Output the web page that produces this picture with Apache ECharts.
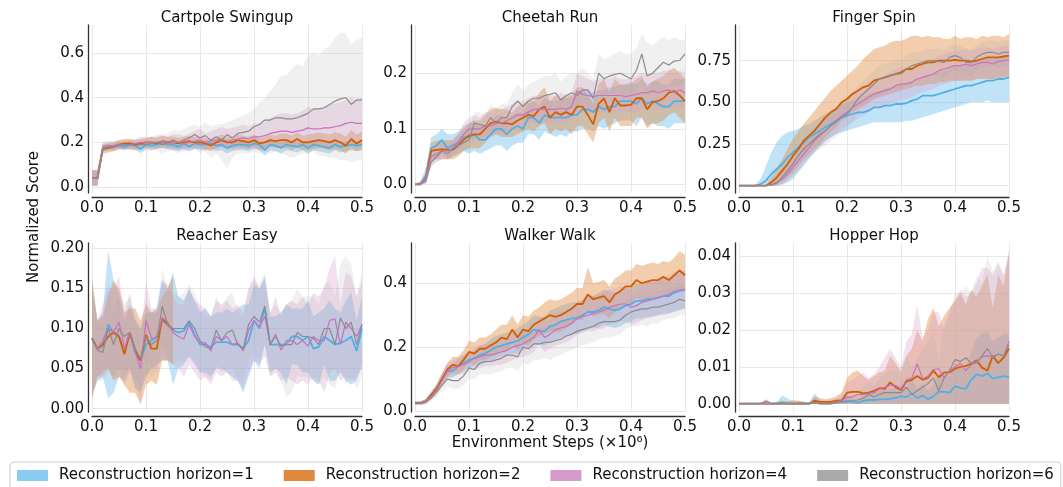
<!DOCTYPE html>
<html>
<head>
<meta charset="utf-8">
<script src="https://cdn.jsdelivr.net/npm/echarts@6/dist/echarts.min.js"></script>
<style>
  html, body { margin: 0; padding: 0; background: #ffffff; }
  #chart { width: 1063px; height: 487px; }
</style>
</head>
<body>
<div id="chart"></div>
<script>
// x positions (environment steps, in millions)
const steps = [0,0.01,0.02,0.03,0.04,0.05,0.06,0.07,0.08,0.09,0.1,0.11,0.12,0.13,0.14,0.15,0.16,0.17,0.18,0.19,0.2,0.21,0.22,0.23,0.24,0.25,0.26,0.27,0.28,0.29,0.3,0.31,0.32,0.33,0.34,0.35,0.36,0.37,0.38,0.39,0.4,0.41,0.42,0.43,0.44,0.45,0.46,0.47,0.48,0.49,0.5];
const horizons = ['Reconstruction horizon=1', 'Reconstruction horizon=2', 'Reconstruction horizon=4', 'Reconstruction horizon=6'];
const xTicks = [0, 0.1, 0.2, 0.3, 0.4, 0.5];

// ---- Cartpole Swingup ----
const cartpoleTicks = [0, 0.2, 0.4, 0.6];
const cpMean1 = [0.04,0.04,0.175,0.18,0.18,0.185,0.18,0.19,0.185,0.17,0.19,0.185,0.19,0.195,0.19,0.19,0.18,0.195,0.18,0.195,0.19,0.19,0.195,0.185,0.19,0.175,0.185,0.19,0.19,0.185,0.195,0.19,0.165,0.19,0.185,0.175,0.19,0.185,0.18,0.19,0.175,0.19,0.185,0.18,0.175,0.19,0.18,0.185,0.19,0.185,0.19];
const cpLow1 = [0.005,0.005,0.16,0.165,0.165,0.17,0.165,0.17,0.17,0.15,0.17,0.165,0.17,0.175,0.17,0.165,0.16,0.17,0.16,0.17,0.165,0.165,0.17,0.16,0.165,0.15,0.16,0.165,0.165,0.16,0.17,0.165,0.14,0.165,0.16,0.15,0.165,0.16,0.155,0.165,0.15,0.165,0.16,0.155,0.15,0.165,0.155,0.16,0.165,0.16,0.165];
const cpHigh1 = [0.075,0.075,0.19,0.195,0.195,0.2,0.195,0.205,0.2,0.19,0.205,0.2,0.205,0.21,0.205,0.21,0.2,0.215,0.2,0.215,0.21,0.21,0.215,0.205,0.21,0.2,0.205,0.21,0.21,0.205,0.215,0.21,0.19,0.21,0.205,0.2,0.21,0.205,0.2,0.21,0.2,0.21,0.205,0.2,0.2,0.21,0.2,0.205,0.21,0.205,0.21];
const cpMean2 = [0.04,0.04,0.17,0.175,0.18,0.19,0.195,0.195,0.19,0.195,0.2,0.2,0.195,0.205,0.2,0.2,0.195,0.2,0.205,0.2,0.2,0.195,0.185,0.2,0.21,0.2,0.2,0.21,0.205,0.2,0.21,0.195,0.2,0.21,0.205,0.21,0.21,0.2,0.215,0.2,0.2,0.205,0.21,0.205,0.2,0.21,0.2,0.185,0.215,0.195,0.21];
const cpLow2 = [0.005,0.005,0.15,0.155,0.16,0.17,0.17,0.17,0.165,0.17,0.175,0.175,0.17,0.18,0.175,0.175,0.17,0.175,0.18,0.175,0.175,0.17,0.16,0.175,0.18,0.175,0.17,0.18,0.175,0.17,0.18,0.165,0.17,0.18,0.175,0.175,0.175,0.165,0.18,0.165,0.165,0.17,0.175,0.17,0.165,0.17,0.165,0.15,0.175,0.16,0.17];
const cpHigh2 = [0.075,0.075,0.19,0.195,0.2,0.21,0.215,0.215,0.21,0.215,0.22,0.225,0.22,0.23,0.225,0.225,0.22,0.225,0.23,0.225,0.225,0.22,0.21,0.225,0.235,0.225,0.225,0.235,0.23,0.225,0.235,0.22,0.225,0.235,0.23,0.24,0.24,0.23,0.245,0.23,0.235,0.24,0.245,0.24,0.235,0.245,0.24,0.225,0.255,0.235,0.25];
const cpMean4 = [0.04,0.04,0.18,0.185,0.185,0.19,0.19,0.19,0.195,0.2,0.2,0.2,0.2,0.205,0.195,0.2,0.2,0.195,0.2,0.205,0.21,0.2,0.205,0.21,0.215,0.205,0.21,0.215,0.22,0.215,0.225,0.225,0.23,0.24,0.245,0.25,0.25,0.245,0.25,0.255,0.265,0.26,0.26,0.265,0.265,0.27,0.275,0.285,0.29,0.285,0.285];
const cpLow4 = [0.005,0.005,0.16,0.165,0.165,0.17,0.17,0.17,0.17,0.175,0.175,0.175,0.175,0.175,0.17,0.17,0.17,0.165,0.17,0.17,0.175,0.165,0.17,0.17,0.175,0.165,0.17,0.17,0.175,0.17,0.175,0.175,0.175,0.18,0.18,0.185,0.18,0.175,0.18,0.18,0.185,0.18,0.18,0.18,0.18,0.185,0.185,0.19,0.19,0.185,0.19];
const cpHigh4 = [0.075,0.075,0.2,0.205,0.205,0.21,0.21,0.21,0.215,0.225,0.225,0.225,0.225,0.235,0.225,0.235,0.235,0.23,0.24,0.25,0.26,0.24,0.25,0.26,0.27,0.26,0.265,0.27,0.28,0.27,0.285,0.285,0.29,0.31,0.32,0.33,0.33,0.325,0.33,0.34,0.36,0.35,0.35,0.36,0.37,0.375,0.38,0.39,0.4,0.39,0.4];
const cpMean6 = [0.04,0.04,0.17,0.18,0.18,0.185,0.19,0.19,0.185,0.19,0.19,0.195,0.2,0.19,0.2,0.21,0.2,0.21,0.22,0.235,0.22,0.23,0.21,0.225,0.21,0.235,0.22,0.24,0.245,0.25,0.27,0.28,0.3,0.3,0.31,0.31,0.305,0.305,0.31,0.32,0.33,0.35,0.35,0.355,0.37,0.385,0.395,0.4,0.37,0.39,0.39];
const cpLow6 = [0.005,0.005,0.15,0.16,0.16,0.165,0.17,0.165,0.16,0.165,0.16,0.165,0.165,0.15,0.16,0.165,0.15,0.16,0.16,0.17,0.15,0.16,0.13,0.15,0.12,0.085,0.13,0.15,0.15,0.15,0.16,0.15,0.16,0.15,0.16,0.15,0.14,0.13,0.14,0.15,0.15,0.16,0.14,0.14,0.13,0.13,0.12,0.12,0.11,0.12,0.12];
const cpHigh6 = [0.075,0.075,0.2,0.2,0.2,0.205,0.21,0.215,0.21,0.215,0.22,0.225,0.235,0.23,0.24,0.255,0.25,0.26,0.27,0.28,0.27,0.29,0.27,0.28,0.28,0.29,0.3,0.31,0.32,0.33,0.35,0.38,0.4,0.43,0.46,0.5,0.5,0.53,0.55,0.54,0.59,0.6,0.59,0.62,0.63,0.67,0.69,0.69,0.64,0.66,0.67];

// ---- Cheetah Run ----
const cheetahTicks = [0, 0.1, 0.2];
const chMean1 = [0,0,0.015,0.065,0.07,0.08,0.065,0.07,0.075,0.085,0.085,0.09,0.08,0.08,0.09,0.1,0.1,0.09,0.1,0.105,0.1,0.12,0.12,0.11,0.125,0.12,0.12,0.12,0.12,0.125,0.125,0.135,0.135,0.13,0.14,0.135,0.14,0.14,0.15,0.15,0.15,0.145,0.155,0.145,0.15,0.145,0.14,0.14,0.15,0.15,0.15];
const chLow1 = [0,0,0.005,0.04,0.045,0.055,0.045,0.05,0.055,0.06,0.055,0.06,0.055,0.06,0.065,0.07,0.07,0.06,0.07,0.075,0.075,0.09,0.09,0.08,0.095,0.09,0.085,0.09,0.085,0.095,0.095,0.1,0.1,0.095,0.105,0.1,0.105,0.11,0.115,0.115,0.115,0.105,0.12,0.105,0.11,0.105,0.105,0.1,0.11,0.11,0.11];
const chHigh1 = [0,0.005,0.03,0.085,0.09,0.1,0.09,0.09,0.095,0.105,0.11,0.115,0.105,0.105,0.115,0.125,0.125,0.115,0.125,0.13,0.13,0.145,0.15,0.14,0.155,0.15,0.15,0.155,0.155,0.155,0.16,0.17,0.17,0.165,0.17,0.17,0.175,0.175,0.18,0.18,0.185,0.18,0.19,0.18,0.185,0.185,0.18,0.18,0.19,0.19,0.19];
const chMean2 = [0,0,0.01,0.06,0.062,0.063,0.062,0.062,0.07,0.08,0.088,0.09,0.09,0.1,0.11,0.113,0.11,0.11,0.108,0.115,0.12,0.125,0.123,0.135,0.14,0.12,0.13,0.125,0.13,0.125,0.14,0.14,0.125,0.108,0.145,0.155,0.13,0.155,0.142,0.142,0.143,0.155,0.155,0.135,0.148,0.15,0.155,0.165,0.168,0.16,0.15];
const chLow2 = [0,0,0.005,0.045,0.045,0.045,0.045,0.045,0.05,0.06,0.065,0.065,0.065,0.075,0.085,0.09,0.085,0.085,0.085,0.09,0.095,0.1,0.095,0.105,0.11,0.09,0.1,0.095,0.1,0.09,0.105,0.105,0.09,0.075,0.11,0.12,0.095,0.12,0.105,0.105,0.105,0.12,0.12,0.1,0.11,0.11,0.115,0.125,0.13,0.12,0.11];
const chHigh2 = [0,0.005,0.02,0.075,0.078,0.08,0.08,0.08,0.09,0.1,0.11,0.115,0.115,0.125,0.135,0.138,0.135,0.135,0.13,0.14,0.145,0.15,0.15,0.165,0.175,0.15,0.16,0.155,0.16,0.16,0.175,0.175,0.16,0.145,0.18,0.19,0.165,0.19,0.18,0.18,0.18,0.19,0.195,0.175,0.185,0.19,0.195,0.205,0.21,0.2,0.19];
const chMean4 = [0,0,0.01,0.05,0.055,0.06,0.06,0.065,0.075,0.09,0.1,0.1,0.1,0.105,0.105,0.11,0.11,0.115,0.12,0.125,0.125,0.13,0.135,0.135,0.135,0.135,0.135,0.137,0.135,0.14,0.168,0.162,0.16,0.158,0.16,0.16,0.16,0.16,0.16,0.158,0.16,0.162,0.165,0.165,0.168,0.165,0.168,0.17,0.165,0.17,0.165];
const chLow4 = [0,0,0,0.035,0.04,0.045,0.045,0.05,0.06,0.07,0.08,0.08,0.08,0.085,0.085,0.09,0.09,0.095,0.1,0.105,0.105,0.11,0.11,0.11,0.11,0.11,0.11,0.11,0.11,0.115,0.14,0.135,0.13,0.13,0.13,0.13,0.13,0.13,0.13,0.13,0.13,0.13,0.135,0.135,0.135,0.135,0.135,0.14,0.135,0.14,0.135];
const chHigh4 = [0,0.005,0.02,0.065,0.07,0.075,0.075,0.08,0.09,0.11,0.12,0.125,0.12,0.13,0.13,0.135,0.135,0.14,0.145,0.15,0.15,0.155,0.16,0.16,0.16,0.16,0.16,0.165,0.16,0.165,0.2,0.195,0.19,0.185,0.19,0.19,0.19,0.195,0.19,0.19,0.19,0.195,0.2,0.2,0.2,0.2,0.205,0.205,0.2,0.205,0.2];
const chMean6 = [0,0,0.005,0.04,0.05,0.06,0.055,0.065,0.07,0.075,0.08,0.11,0.108,0.105,0.12,0.11,0.12,0.12,0.14,0.15,0.14,0.15,0.155,0.155,0.16,0.162,0.165,0.152,0.16,0.165,0.16,0.17,0.17,0.155,0.2,0.19,0.195,0.198,0.2,0.195,0.19,0.205,0.235,0.195,0.2,0.21,0.22,0.215,0.222,0.223,0.235];
const chLow6 = [0,0,0,0.03,0.04,0.045,0.045,0.05,0.055,0.06,0.065,0.085,0.085,0.085,0.095,0.09,0.095,0.1,0.115,0.12,0.115,0.12,0.125,0.125,0.13,0.13,0.135,0.125,0.13,0.135,0.135,0.14,0.14,0.13,0.165,0.16,0.16,0.165,0.165,0.16,0.155,0.165,0.19,0.16,0.165,0.17,0.175,0.175,0.18,0.175,0.185];
const chHigh6 = [0,0.005,0.01,0.05,0.06,0.075,0.07,0.08,0.085,0.09,0.1,0.13,0.13,0.125,0.145,0.135,0.145,0.145,0.165,0.18,0.17,0.18,0.185,0.19,0.195,0.195,0.2,0.185,0.195,0.2,0.2,0.21,0.2,0.19,0.235,0.225,0.23,0.235,0.24,0.235,0.235,0.245,0.27,0.255,0.25,0.26,0.265,0.26,0.265,0.26,0.26];

// ---- Finger Spin ----
const fingerTicks = [0, 0.25, 0.5, 0.75];
const fsMean1 = [0,0,0,0,0.01,0.03,0.07,0.1,0.13,0.17,0.2,0.23,0.26,0.29,0.31,0.33,0.35,0.37,0.39,0.41,0.42,0.43,0.44,0.44,0.45,0.47,0.47,0.48,0.48,0.49,0.49,0.495,0.51,0.52,0.54,0.54,0.54,0.55,0.56,0.57,0.58,0.59,0.6,0.6,0.61,0.62,0.63,0.63,0.64,0.64,0.65];
const fsLow1 = [0,0,0,0,0,0,0,0,0.005,0.02,0.04,0.08,0.12,0.16,0.2,0.24,0.27,0.29,0.31,0.32,0.33,0.34,0.35,0.36,0.37,0.38,0.38,0.38,0.38,0.38,0.38,0.39,0.39,0.4,0.41,0.42,0.43,0.44,0.45,0.46,0.47,0.48,0.49,0.5,0.5,0.5,0.51,0.5,0.5,0.5,0.5];
const fsHigh1 = [0,0,0,0.005,0.04,0.12,0.2,0.26,0.3,0.32,0.33,0.34,0.36,0.37,0.39,0.41,0.43,0.45,0.47,0.49,0.5,0.51,0.52,0.53,0.55,0.56,0.57,0.58,0.59,0.6,0.61,0.62,0.63,0.64,0.65,0.66,0.67,0.68,0.69,0.7,0.71,0.72,0.73,0.74,0.75,0.75,0.76,0.76,0.77,0.78,0.78];
const fsMean2 = [0,0,0,0,0,0,0.02,0.05,0.09,0.13,0.18,0.22,0.27,0.3,0.33,0.37,0.41,0.44,0.46,0.5,0.52,0.55,0.57,0.59,0.6,0.63,0.64,0.65,0.66,0.67,0.68,0.7,0.7,0.72,0.73,0.74,0.74,0.75,0.75,0.75,0.755,0.75,0.75,0.745,0.75,0.76,0.77,0.77,0.77,0.775,0.78];
const fsLow2 = [0,0,0,0,0,0,0,0.005,0.02,0.05,0.08,0.12,0.16,0.19,0.22,0.25,0.29,0.32,0.35,0.39,0.41,0.44,0.46,0.48,0.5,0.52,0.53,0.54,0.55,0.56,0.57,0.58,0.59,0.6,0.6,0.61,0.61,0.62,0.62,0.63,0.63,0.63,0.63,0.63,0.64,0.64,0.64,0.64,0.645,0.65,0.65];
const fsHigh2 = [0,0,0,0,0,0.005,0.05,0.1,0.16,0.22,0.28,0.33,0.37,0.41,0.45,0.49,0.53,0.57,0.6,0.63,0.66,0.69,0.72,0.76,0.79,0.82,0.83,0.84,0.86,0.87,0.87,0.88,0.9,0.9,0.89,0.9,0.89,0.89,0.88,0.88,0.9,0.88,0.89,0.89,0.88,0.9,0.89,0.9,0.9,0.89,0.91];
const fsMean4 = [0,0,0,0,0,0,0.005,0.02,0.04,0.07,0.11,0.15,0.19,0.23,0.27,0.3,0.33,0.36,0.39,0.42,0.44,0.47,0.49,0.51,0.53,0.55,0.56,0.57,0.58,0.6,0.61,0.61,0.62,0.64,0.65,0.66,0.67,0.69,0.7,0.71,0.72,0.72,0.73,0.72,0.73,0.74,0.74,0.73,0.745,0.75,0.755];
const fsLow4 = [0,0,0,0,0,0,0,0,0.01,0.03,0.06,0.09,0.13,0.17,0.2,0.23,0.26,0.29,0.31,0.34,0.36,0.38,0.4,0.42,0.44,0.46,0.47,0.48,0.49,0.5,0.51,0.52,0.53,0.55,0.56,0.57,0.58,0.6,0.61,0.62,0.63,0.63,0.64,0.63,0.64,0.65,0.65,0.64,0.66,0.66,0.67];
const fsHigh4 = [0,0,0,0,0,0.005,0.02,0.05,0.08,0.12,0.16,0.21,0.25,0.29,0.33,0.37,0.4,0.43,0.47,0.5,0.52,0.55,0.58,0.6,0.62,0.64,0.65,0.66,0.68,0.7,0.71,0.71,0.72,0.73,0.74,0.75,0.76,0.78,0.79,0.8,0.81,0.81,0.82,0.81,0.82,0.83,0.83,0.82,0.83,0.84,0.84];
const fsMean6 = [0,0,0,0,0,0,0.005,0.015,0.05,0.09,0.13,0.18,0.22,0.25,0.28,0.31,0.33,0.36,0.38,0.41,0.43,0.47,0.52,0.55,0.58,0.61,0.64,0.65,0.66,0.67,0.67,0.7,0.72,0.73,0.74,0.75,0.75,0.745,0.74,0.77,0.78,0.77,0.74,0.74,0.77,0.79,0.8,0.8,0.79,0.8,0.8];
const fsLow6 = [0,0,0,0,0,0,0,0,0.01,0.03,0.06,0.1,0.14,0.17,0.2,0.22,0.24,0.27,0.29,0.32,0.34,0.38,0.43,0.46,0.49,0.52,0.55,0.56,0.57,0.58,0.58,0.61,0.63,0.64,0.65,0.66,0.66,0.66,0.65,0.68,0.69,0.68,0.66,0.66,0.69,0.71,0.72,0.72,0.71,0.72,0.72];
const fsHigh6 = [0,0,0,0,0,0.005,0.02,0.05,0.09,0.14,0.19,0.24,0.29,0.32,0.35,0.39,0.41,0.44,0.47,0.5,0.52,0.56,0.6,0.63,0.66,0.69,0.72,0.73,0.74,0.75,0.75,0.78,0.8,0.8,0.81,0.82,0.82,0.82,0.81,0.84,0.85,0.84,0.82,0.82,0.84,0.86,0.87,0.87,0.86,0.87,0.87];

// ---- Reacher Easy ----
const reacherTicks = [0, 0.05, 0.1, 0.15, 0.2];
const reMean1 = [0.088,0.075,0.078,0.105,0.095,0.09,0.07,0.095,0.07,0.06,0.08,0.085,0.09,0.11,0.105,0.098,0.095,0.097,0.108,0.093,0.08,0.08,0.077,0.083,0.083,0.083,0.08,0.08,0.075,0.085,0.11,0.1,0.125,0.08,0.08,0.08,0.08,0.09,0.09,0.085,0.09,0.075,0.077,0.09,0.085,0.08,0.082,0.085,0.09,0.072,0.1];
const reLow1 = [0.015,0.035,0.04,0.013,0.02,0.04,0.035,0.05,0.025,0.02,0.04,0.05,0.055,0.06,0.06,0.03,0.05,0.055,0.065,0.055,0.045,0.045,0.04,0.05,0.05,0.045,0.04,0.035,0.02,0.04,0.06,0.05,0.08,0.045,0.05,0.045,0.03,0.055,0.055,0.045,0.045,0.035,0.03,0.055,0.035,0.035,0.045,0.035,0.03,0.035,0.055];
const reHigh1 = [0.16,0.11,0.12,0.197,0.16,0.14,0.11,0.13,0.11,0.1,0.12,0.12,0.125,0.16,0.15,0.17,0.14,0.135,0.15,0.135,0.12,0.125,0.115,0.12,0.12,0.125,0.12,0.125,0.13,0.13,0.155,0.15,0.165,0.115,0.115,0.12,0.13,0.125,0.125,0.125,0.135,0.115,0.12,0.125,0.135,0.125,0.12,0.135,0.145,0.11,0.14];
const reMean2 = [0.088,0.075,0.08,0.09,0.095,0.09,0.068,0.095,0.072,0.06,0.092,0.075,0.075,0.113,0.105,0.098];
const reLow2 = [0.012,0.04,0.045,0.05,0.035,0.04,0.03,0.02,0.02,0.005,0.03,0.035,0.03,0.06,0.06,0.055];
const reHigh2 = [0.163,0.11,0.115,0.14,0.16,0.15,0.12,0.125,0.125,0.11,0.13,0.12,0.12,0.14,0.15,0.165];
const reMean4 = [0.085,0.075,0.085,0.1,0.095,0.108,0.075,0.095,0.07,0.05,0.11,0.088,0.088,0.113,0.108,0.095,0.09,0.087,0.105,0.09,0.082,0.082,0.072,0.09,0.085,0.09,0.08,0.082,0.072,0.098,0.11,0.102,0.115,0.08,0.093,0.073,0.085,0.085,0.08,0.085,0.078,0.09,0.085,0.085,0.11,0.112,0.08,0.108,0.1,0.09,0.105];
const reLow4 = [0.02,0.04,0.04,0.05,0.04,0.05,0.03,0.045,0.03,0.01,0.06,0.05,0.05,0.065,0.06,0.055,0.05,0.04,0.055,0.045,0.035,0.04,0.03,0.045,0.04,0.045,0.035,0.035,0.025,0.045,0.06,0.055,0.065,0.04,0.045,0.035,0.04,0.035,0.03,0.035,0.03,0.04,0.035,0.02,0.045,0.05,0.035,0.04,0.035,0.04,0.05];
const reHigh4 = [0.15,0.11,0.13,0.15,0.15,0.165,0.12,0.145,0.11,0.09,0.16,0.125,0.125,0.16,0.155,0.14,0.13,0.13,0.15,0.135,0.13,0.125,0.115,0.135,0.13,0.135,0.125,0.13,0.12,0.15,0.165,0.15,0.16,0.12,0.14,0.115,0.13,0.135,0.13,0.14,0.13,0.145,0.14,0.15,0.175,0.19,0.13,0.17,0.165,0.14,0.16];
const reMean6 = [0.088,0.073,0.07,0.1,0.08,0.1,0.09,0.095,0.075,0.062,0.09,0.08,0.085,0.128,0.105,0.1,0.1,0.1,0.11,0.1,0.085,0.077,0.075,0.098,0.085,0.095,0.098,0.08,0.075,0.105,0.115,0.108,0.128,0.08,0.09,0.078,0.08,0.08,0.095,0.09,0.09,0.088,0.08,0.1,0.1,0.08,0.113,0.1,0.108,0.08,0.105];
const reLow6 = [0.02,0.035,0.035,0.045,0.04,0.05,0.045,0.05,0.035,0.025,0.045,0.04,0.045,0.08,0.06,0.055,0.06,0.06,0.065,0.06,0.045,0.04,0.035,0.055,0.045,0.05,0.05,0.04,0.035,0.06,0.07,0.06,0.08,0.04,0.05,0.035,0.015,0.02,0.04,0.04,0.04,0.035,0.03,0.04,0.03,0.025,0.05,0.03,0.04,0.025,0.04];
const reHigh6 = [0.155,0.11,0.105,0.155,0.12,0.15,0.13,0.14,0.115,0.1,0.135,0.12,0.125,0.175,0.15,0.145,0.14,0.145,0.155,0.145,0.125,0.115,0.115,0.14,0.125,0.14,0.145,0.12,0.115,0.15,0.16,0.155,0.17,0.12,0.13,0.12,0.13,0.135,0.15,0.14,0.14,0.14,0.13,0.155,0.16,0.14,0.18,0.19,0.18,0.14,0.17];

// ---- Walker Walk ----
const walkerTicks = [0, 0.2, 0.4];
const waMean1 = [0.025,0.025,0.03,0.05,0.07,0.1,0.125,0.125,0.14,0.15,0.16,0.165,0.175,0.18,0.19,0.2,0.205,0.21,0.215,0.22,0.23,0.24,0.255,0.25,0.25,0.265,0.27,0.28,0.285,0.29,0.29,0.3,0.31,0.31,0.315,0.325,0.32,0.315,0.32,0.33,0.335,0.345,0.345,0.35,0.35,0.355,0.36,0.36,0.37,0.375,0.38];
const waLow1 = [0.02,0.02,0.025,0.04,0.058,0.085,0.105,0.105,0.115,0.125,0.135,0.14,0.145,0.15,0.155,0.165,0.17,0.175,0.18,0.18,0.19,0.2,0.21,0.205,0.205,0.215,0.22,0.23,0.235,0.24,0.24,0.25,0.255,0.26,0.26,0.27,0.265,0.26,0.265,0.275,0.28,0.29,0.29,0.295,0.295,0.3,0.305,0.305,0.31,0.315,0.32];
const waHigh1 = [0.03,0.03,0.035,0.06,0.083,0.115,0.145,0.145,0.165,0.175,0.185,0.19,0.205,0.21,0.225,0.235,0.24,0.245,0.25,0.26,0.27,0.28,0.3,0.295,0.295,0.315,0.32,0.33,0.335,0.34,0.34,0.35,0.365,0.36,0.37,0.38,0.375,0.37,0.375,0.385,0.39,0.4,0.4,0.405,0.405,0.41,0.415,0.415,0.425,0.43,0.44];
const waMean2 = [0.025,0.025,0.03,0.05,0.07,0.1,0.13,0.145,0.14,0.16,0.185,0.18,0.195,0.195,0.205,0.215,0.23,0.225,0.255,0.23,0.255,0.25,0.27,0.28,0.29,0.3,0.295,0.3,0.31,0.32,0.335,0.335,0.365,0.35,0.355,0.36,0.34,0.365,0.375,0.39,0.39,0.41,0.4,0.405,0.41,0.41,0.42,0.41,0.425,0.44,0.425];
const waLow2 = [0.02,0.02,0.022,0.04,0.055,0.08,0.11,0.12,0.115,0.13,0.15,0.145,0.16,0.16,0.17,0.175,0.19,0.185,0.21,0.19,0.21,0.205,0.225,0.235,0.24,0.25,0.245,0.25,0.26,0.27,0.285,0.285,0.31,0.295,0.3,0.305,0.29,0.31,0.32,0.335,0.335,0.355,0.345,0.35,0.355,0.355,0.365,0.355,0.37,0.385,0.37];
const waHigh2 = [0.03,0.03,0.04,0.06,0.085,0.12,0.15,0.17,0.17,0.19,0.22,0.215,0.23,0.23,0.24,0.255,0.27,0.27,0.3,0.27,0.3,0.295,0.315,0.325,0.34,0.35,0.345,0.35,0.36,0.37,0.385,0.385,0.45,0.4,0.405,0.41,0.39,0.415,0.425,0.44,0.44,0.46,0.455,0.46,0.465,0.46,0.47,0.465,0.48,0.5,0.49];
const waMean4 = [0.025,0.025,0.03,0.045,0.065,0.095,0.125,0.135,0.14,0.145,0.155,0.165,0.17,0.175,0.175,0.18,0.185,0.19,0.2,0.205,0.21,0.22,0.23,0.255,0.23,0.24,0.255,0.26,0.265,0.275,0.29,0.295,0.3,0.305,0.31,0.315,0.325,0.33,0.335,0.335,0.325,0.33,0.34,0.345,0.35,0.355,0.36,0.365,0.375,0.38,0.38];
const waLow4 = [0.02,0.02,0.025,0.035,0.05,0.075,0.1,0.11,0.115,0.115,0.125,0.13,0.135,0.14,0.14,0.145,0.145,0.15,0.16,0.165,0.17,0.175,0.185,0.21,0.185,0.195,0.205,0.21,0.215,0.225,0.24,0.245,0.25,0.25,0.255,0.26,0.27,0.275,0.28,0.28,0.27,0.275,0.285,0.29,0.295,0.3,0.3,0.305,0.315,0.32,0.32];
const waHigh4 = [0.03,0.03,0.035,0.055,0.08,0.115,0.15,0.16,0.165,0.175,0.185,0.2,0.205,0.21,0.21,0.215,0.225,0.23,0.24,0.245,0.25,0.265,0.275,0.3,0.275,0.285,0.305,0.31,0.315,0.325,0.34,0.345,0.35,0.36,0.365,0.37,0.38,0.385,0.39,0.39,0.38,0.385,0.395,0.4,0.405,0.41,0.42,0.425,0.435,0.44,0.44];
const waMean6 = [0.025,0.025,0.028,0.04,0.06,0.08,0.1,0.095,0.095,0.11,0.135,0.13,0.15,0.155,0.155,0.16,0.165,0.175,0.175,0.17,0.2,0.195,0.21,0.21,0.215,0.215,0.22,0.225,0.235,0.24,0.25,0.255,0.26,0.265,0.275,0.28,0.28,0.28,0.285,0.3,0.31,0.315,0.32,0.32,0.325,0.325,0.33,0.335,0.34,0.35,0.345];
const waLow6 = [0.02,0.02,0.02,0.03,0.045,0.06,0.075,0.07,0.07,0.08,0.1,0.1,0.115,0.115,0.115,0.12,0.125,0.135,0.135,0.125,0.15,0.145,0.16,0.16,0.165,0.16,0.17,0.175,0.185,0.19,0.2,0.205,0.21,0.215,0.225,0.23,0.23,0.235,0.24,0.255,0.265,0.265,0.27,0.265,0.275,0.275,0.285,0.29,0.29,0.3,0.3];
const waHigh6 = [0.03,0.03,0.035,0.05,0.075,0.1,0.125,0.12,0.12,0.14,0.165,0.16,0.185,0.19,0.19,0.2,0.205,0.215,0.215,0.21,0.25,0.245,0.26,0.26,0.265,0.27,0.27,0.275,0.285,0.29,0.3,0.305,0.31,0.315,0.325,0.33,0.33,0.33,0.335,0.345,0.355,0.365,0.37,0.375,0.375,0.375,0.38,0.385,0.39,0.4,0.395];

// ---- Hopper Hop ----
const hopperTicks = [0, 0.01, 0.02, 0.03, 0.04];
const hoZero = [0,0,0,0,0,0,0,0,0,0,0,0,0,0,0,0,0,0,0,0,0,0,0,0,0,0,0,0,0,0,0,0,0,0,0,0,0,0,0,0,0,0,0,0,0,0,0,0,0,0,0];
const hoMean1 = [0,0,0,0,0,0,0,0,0.0003,0,0,0,0,0,0.0003,0,0,0,0.0003,0.0005,0.0008,0.0005,0.0003,0.0008,0.001,0.001,0.0012,0.0012,0.0013,0.0016,0.002,0.0018,0.0028,0.0015,0.0022,0.0012,0.002,0.0033,0.0032,0.003,0.0048,0.0043,0.004,0.0065,0.008,0.0075,0.0083,0.0068,0.0072,0.0075,0.0072];
const hoHigh1 = [0,0,0.0002,0,0.0003,0.0008,0.0003,0.0005,0.0022,0.0015,0.0005,0.0008,0.0005,0.0003,0.0028,0.001,0.0005,0.0005,0.001,0.0015,0.002,0.0015,0.001,0.0025,0.003,0.003,0.0035,0.0035,0.004,0.0045,0.005,0.0045,0.007,0.004,0.0055,0.0035,0.005,0.008,0.008,0.0075,0.011,0.01,0.0095,0.014,0.018,0.019,0.02,0.017,0.018,0.019,0.019];
const hoMean2 = [0,0,0,0,0,0,0,0,0,0,0,0,0,0,0.0008,0.0005,0.0005,0.0005,0.0008,0.0008,0.003,0.0032,0.0033,0.0028,0.003,0.0035,0.0042,0.004,0.0058,0.0045,0.0037,0.006,0.0065,0.0075,0.0065,0.007,0.009,0.0072,0.0085,0.0085,0.0095,0.01,0.0103,0.0108,0.0118,0.0098,0.009,0.013,0.011,0.0125,0.015];
const hoHigh2 = [0,0.0002,0.0002,0,0,0.0008,0,0.0003,0.0008,0.0005,0.001,0.0008,0.0005,0.0003,0.002,0.0015,0.0013,0.0015,0.002,0.003,0.007,0.0085,0.009,0.0075,0.0065,0.0075,0.0085,0.009,0.013,0.011,0.0085,0.013,0.015,0.02,0.017,0.023,0.026,0.021,0.024,0.026,0.028,0.03,0.027,0.031,0.029,0.032,0.035,0.026,0.035,0.032,0.041];
const hoMean4 = [0,0,0,0,0,0,0,0,0,0,0,0,0,0,0.0003,0,0,0,0.0005,0.0008,0.0018,0.0018,0.0025,0.0025,0.0028,0.003,0.004,0.0045,0.005,0.005,0.004,0.0065,0.007,0.0108,0.0068,0.0075,0.0093,0.0095,0.007,0.009,0.01,0.011,0.009,0.0105,0.0115,0.0128,0.013,0.0128,0.0135,0.013,0.017];
const hoHigh4 = [0,0,0.0002,0,0,0.0005,0,0,0.0005,0.0005,0.0005,0.0005,0.0003,0.0003,0.0015,0.0008,0.001,0.001,0.0015,0.0025,0.0055,0.0065,0.0075,0.0085,0.007,0.008,0.01,0.0125,0.015,0.0125,0.01,0.017,0.019,0.027,0.018,0.02,0.025,0.025,0.02,0.025,0.028,0.031,0.029,0.03,0.033,0.037,0.037,0.035,0.038,0.035,0.042];
const hoMean6 = [0,0,0,0,0,0.0008,0,0,0,0,0,0,0,0,0.0003,0,0,0,0.0003,0.0005,0.0005,0.0008,0.001,0.0015,0.0025,0.0018,0.0025,0.003,0.003,0.003,0.003,0.0045,0.0025,0.0035,0.0045,0.0055,0.007,0.0035,0.007,0.009,0.012,0.0115,0.0125,0.011,0.011,0.013,0.015,0.0125,0.0135,0.013,0.016];
const hoHigh6 = [0,0,0,0,0,0.0015,0.0003,0,0.001,0.0005,0.0005,0.0005,0.0003,0.0003,0.001,0.0008,0.0005,0.0008,0.001,0.0015,0.002,0.0025,0.003,0.0045,0.006,0.005,0.007,0.008,0.009,0.009,0.01,0.013,0.01,0.012,0.015,0.017,0.02,0.012,0.022,0.025,0.03,0.03,0.032,0.03,0.035,0.033,0.04,0.036,0.039,0.035,0.04];

// ---- styling ----
const FONT = "'DejaVu Sans', 'Liberation Sans', sans-serif";
const TEXT = '#111111';
const lineColors = ['#4fb0e8', '#d55e00', '#cc6fc0', '#8c8c8c'];
const lineWidths = [1.8, 1.8, 1.2, 1.2];
const bandColors = ['rgba(86,180,233,0.37)', 'rgba(225,136,63,0.42)', 'rgba(214,154,203,0.3)', 'rgba(170,170,170,0.18)'];
const legendColors = ['#88ccf1', '#e1883f', '#d69acb', '#aaaaaa'];

const panels = [
  { title: 'Cartpole Swingup', ticks: cartpoleTicks, digits: 1, yMin: -0.027, yMax: 0.726,
    mean: [cpMean1, cpMean2, cpMean4, cpMean6], low: [cpLow1, cpLow2, cpLow4, cpLow6], high: [cpHigh1, cpHigh2, cpHigh4, cpHigh6] },
  { title: 'Cheetah Run', ticks: cheetahTicks, digits: 1, yMin: -0.0157, yMax: 0.287,
    mean: [chMean1, chMean2, chMean4, chMean6], low: [chLow1, chLow2, chLow4, chLow6], high: [chHigh1, chHigh2, chHigh4, chHigh6] },
  { title: 'Finger Spin', ticks: fingerTicks, digits: 2, yMin: -0.044, yMax: 0.964,
    mean: [fsMean1, fsMean2, fsMean4, fsMean6], low: [fsLow1, fsLow2, fsLow4, fsLow6], high: [fsHigh1, fsHigh2, fsHigh4, fsHigh6] },
  { title: 'Reacher Easy', ticks: reacherTicks, digits: 2, yMin: -0.0041, yMax: 0.2066,
    mean: [reMean1, reMean2, reMean4, reMean6], low: [reLow1, reLow2, reLow4, reLow6], high: [reHigh1, reHigh2, reHigh4, reHigh6] },
  { title: 'Walker Walk', ticks: walkerTicks, digits: 1, yMin: -0.003, yMax: 0.526,
    mean: [waMean1, waMean2, waMean4, waMean6], low: [waLow1, waLow2, waLow4, waLow6], high: [waHigh1, waHigh2, waHigh4, waHigh6] },
  { title: 'Hopper Hop', ticks: hopperTicks, digits: 2, yMin: -0.00226, yMax: 0.0437,
    mean: [hoMean1, hoMean2, hoMean4, hoMean6], low: [hoZero, hoZero, hoZero, hoZero], high: [hoHigh1, hoHigh2, hoHigh4, hoHigh6] }
];

// plot-area placement of the 2 x 3 panel grid
const colLeft = [92, 415, 739];
const rowTop = [25, 243];
const rowHeight = [168, 169];
const plotWidth = 270;
const titleTop = [11, 229];

const pairs = (vals) => vals.map((v, i) => [steps[i], v]);

// one filled polygon per band: upper edge left->right, lower edge right->left
function bandRenderer(fill) {
  return function (params, api) {
    if (params.dataIndex !== 0) return null;
    const n = params.dataInsideLength;
    const pts = [];
    for (let i = 0; i < n; i++) pts.push(api.coord([api.value(0, i), api.value(2, i)]));
    for (let i = n - 1; i >= 0; i--) pts.push(api.coord([api.value(0, i), api.value(1, i)]));
    return { type: 'polygon', shape: { points: pts }, style: { fill: fill, stroke: null }, silent: true };
  };
}

const grids = [], xAxes = [], yAxes = [], titles = [], series = [];
panels.forEach((p, k) => {
  const col = k % 3, row = Math.floor(k / 3);
  grids.push({ left: colLeft[col], top: rowTop[row], width: plotWidth, height: rowHeight[row], containLabel: false });
  titles.push({
    text: p.title, left: colLeft[col] + plotWidth / 2, top: titleTop[row], textAlign: 'center', padding: 0,
    textStyle: { fontFamily: FONT, fontSize: 15, fontWeight: 'normal', color: TEXT }
  });
  xAxes.push({
    gridIndex: k, type: 'value', min: 0, max: 0.5, interval: 0.1, offset: 4,
    axisLine: { show: true, onZero: false, lineStyle: { color: '#333333', width: 1.3 } },
    axisTick: { show: false },
    axisLabel: { fontFamily: FONT, fontSize: 15, color: TEXT, margin: 4, formatter: (v) => v.toFixed(1) },
    splitLine: { show: true, lineStyle: { color: '#e8e8e8', width: 1 } }
  });
  yAxes.push({
    gridIndex: k, type: 'value', min: p.yMin, max: p.yMax, offset: 4,
    axisLine: { show: true, onZero: false, lineStyle: { color: '#333333', width: 1.3 } },
    axisTick: { show: false, customValues: p.ticks },
    axisLabel: { customValues: p.ticks, fontFamily: FONT, fontSize: 15, color: TEXT, margin: 4,
                 formatter: (v) => Number(v).toFixed(p.digits) },
    splitLine: { show: true, lineStyle: { color: '#e8e8e8', width: 1 } }
  });
  // shaded min/max bands
  p.mean.forEach((m, j) => {
    const lo = p.low[j], hi = p.high[j];
    series.push({
      type: 'custom', xAxisIndex: k, yAxisIndex: k, z: 1, silent: true, clip: true,
      data: m.map((v, i) => [steps[i], lo[i], hi[i]]),
      encode: { x: 0, y: [1, 2] },
      renderItem: bandRenderer(bandColors[j])
    });
  });
  // mean curves
  p.mean.forEach((m, j) => {
    series.push({
      name: horizons[j], type: 'line', xAxisIndex: k, yAxisIndex: k, data: pairs(m),
      symbol: 'none', z: 3, silent: true,
      lineStyle: { color: lineColors[j], width: lineWidths[j] },
      itemStyle: { color: legendColors[j] }
    });
  });
});

const chart = echarts.init(document.getElementById('chart'), null, { renderer: 'canvas' });
chart.setOption({
  backgroundColor: '#ffffff',
  animation: false,
  title: titles,
  grid: grids,
  xAxis: xAxes,
  yAxis: yAxes,
  legend: {
    left: 10, top: 462, orient: 'horizontal', selectedMode: false,
    itemWidth: 31, itemHeight: 11, itemGap: 30,
    padding: [6, 7, 14, 7],
    borderColor: '#cccccc', borderWidth: 1, borderRadius: 4,
    textStyle: { fontFamily: FONT, fontSize: 15, color: TEXT, padding: [0, 0, 0, 6] },
    data: horizons.map((n, j) => ({ name: n, icon: 'rect', itemStyle: { color: legendColors[j], borderWidth: 0 } }))
  },
  graphic: [
    { type: 'text', x: 34, y: 217, rotation: Math.PI / 2,
      style: { text: 'Normalized Score', font: '15px ' + FONT, fill: TEXT,
               align: 'center', verticalAlign: 'middle', textAlign: 'center', textVerticalAlign: 'middle' } },
    { type: 'text', x: 550, y: 443,
      style: { text: 'Environment Steps (×10⁶)', font: '15px ' + FONT, fill: TEXT,
               align: 'center', verticalAlign: 'middle', textAlign: 'center', textVerticalAlign: 'middle' } }
  ],
  series: series
});
</script>
</body>
</html>
